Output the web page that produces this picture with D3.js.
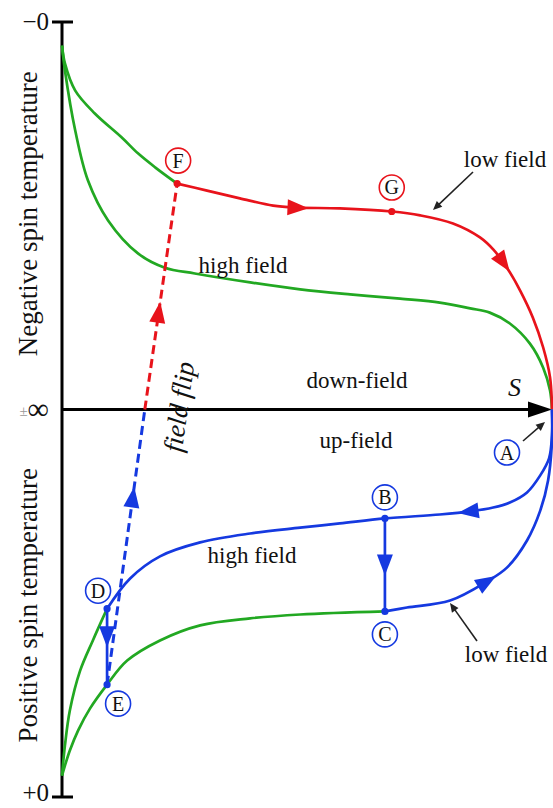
<!DOCTYPE html>
<html>
<head>
<meta charset="utf-8">
<script src="https://cdn.jsdelivr.net/npm/d3@7"></script>
<style>
  html, body { margin: 0; padding: 0; background: #fff; }
  svg { display: block; }
  text { font-family: "Liberation Serif", "DejaVu Serif", serif; fill: #111; }
</style>
</head>
<body>
<svg id="chart" width="553" height="808"></svg>
<script>
// Entropy S (normalised, 0..1) against inverse spin temperature
// (normalised: +1 = -0 K, 0 = ±∞, -1 = +0 K).

// Vertical axis tick values and their labels
const tickValues = [1, 0, -1];
const tickLabels = ["−0", "±∞", "+0"];

// Low-field curve, negative temperatures: green part (−0 → F) and red part (F → S max)
const lowFieldNegGreen = [[0, 0.939], [0.006, 0.893], [0.027, 0.823], [0.067, 0.764], [0.122, 0.702],
  [0.155, 0.661], [0.190, 0.625], [0.235, 0.583]];
const lowFieldNegRed = [[0.235, 0.583], [0.296, 0.565], [0.363, 0.545], [0.431, 0.526], [0.480, 0.521],
  [0.567, 0.519], [0.673, 0.511], [0.731, 0.501], [0.798, 0.480], [0.853, 0.444], [0.880, 0.413],
  [0.908, 0.366], [0.935, 0.307], [0.961, 0.237], [0.982, 0.160], [0.996, 0.083], [1, 0]];

// High-field curve, negative temperatures
const highFieldNeg = [[0, 0.939], [0.006, 0.875], [0.027, 0.720], [0.053, 0.591], [0.094, 0.488],
  [0.155, 0.403], [0.210, 0.366], [0.271, 0.351], [0.384, 0.328], [0.486, 0.310], [0.588, 0.297],
  [0.690, 0.286], [0.771, 0.276], [0.833, 0.261], [0.873, 0.250], [0.914, 0.222], [0.955, 0.170],
  [0.982, 0.108], [0.996, 0.049], [1, 0]];

// High-field curve, positive temperatures: blue part (A → B → D) and green part (D → +0)
const highFieldPosBlue = [[1, 0], [1, -0.067], [0.994, -0.126], [0.976, -0.170], [0.949, -0.214],
  [0.914, -0.240], [0.880, -0.253], [0.833, -0.263], [0.771, -0.271], [0.659, -0.281], [0.567, -0.294],
  [0.486, -0.305], [0.384, -0.320], [0.282, -0.343], [0.200, -0.379], [0.139, -0.436], [0.092, -0.514]];
const highFieldPosGreen = [[0.092, -0.514], [0.063, -0.596], [0.037, -0.674], [0.016, -0.777],
  [0.006, -0.867], [0, -0.945]];

// Low-field curve, positive temperatures: blue part (C → A) and green part (C → E → +0)
const lowFieldPosBlue = [[0.659, -0.521], [0.704, -0.511], [0.792, -0.493], [0.867, -0.444],
  [0.908, -0.408], [0.949, -0.338], [0.976, -0.261], [0.992, -0.183], [1, -0.080], [1, 0]];
const lowFieldPosGreen = [[0.659, -0.521], [0.486, -0.529], [0.384, -0.539], [0.282, -0.557],
  [0.200, -0.596], [0.133, -0.648], [0.092, -0.710], [0.057, -0.772], [0.033, -0.828],
  [0.016, -0.880], [0.006, -0.919], [0, -0.945]];

// Field flip E → F, crossing the ±∞ line
const flipBlue = [[0.092, -0.710], [0.169, 0]];
const flipRed = [[0.169, 0], [0.235, 0.583]];

// Isothermal steps B → C and D → E
const stepBC = [[0.659, -0.281], [0.659, -0.521]];
const stepDE = [[0.092, -0.514], [0.092, -0.710]];

// Labelled states
const stateNames = ["A", "B", "C", "D", "E", "F", "G"];
const stateS = [1, 0.659, 0.659, 0.092, 0.092, 0.235, 0.673];
const stateV = [0, -0.281, -0.521, -0.514, -0.710, 0.583, 0.511];

const svg = d3.select("#chart");
const x = d3.scaleLinear().domain([0, 1]).range([62, 552]);
const y = d3.scaleLinear().domain([-1, 1]).range([797, 22]);

const GREEN = "#22a822", RED = "#e8131b", BLUE = "#1539e0";

const line = d3.line().x(d => x(d[0])).y(d => y(d[1])).curve(d3.curveCatmullRom.alpha(0.5));

function curve(data, color, dashed) {
  return svg.append("path").datum(data).attr("d", line)
    .attr("fill", "none").attr("stroke", color)
    .attr("stroke-width", dashed ? 3 : 2.7)
    .attr("stroke-linecap", "butt")
    .attr("stroke-dasharray", dashed ? "9,5" : null);
}

// Filled arrowhead on a path, placed where the path reaches a given x or y value
function arrowOn(path, axis, value, color) {
  const node = path.node();
  const total = node.getTotalLength();
  const target = axis === "x" ? x(value) : y(value);
  let best = 0, bestD = Infinity;
  for (let i = 0; i <= 600; i++) {
    const l = total * i / 600;
    const p = node.getPointAtLength(l);
    const d = Math.abs((axis === "x" ? p.x : p.y) - target);
    if (d < bestD) { bestD = d; best = l; }
  }
  const p0 = node.getPointAtLength(Math.max(0, best - 2));
  const p1 = node.getPointAtLength(Math.min(total, best + 2));
  const c = node.getPointAtLength(best);
  const ang = Math.atan2(p1.y - p0.y, p1.x - p0.x) * 180 / Math.PI;
  svg.append("path")
    .attr("d", "M11,0 L-10,-8 L-10,8 Z")
    .attr("fill", color)
    .attr("transform", `translate(${c.x},${c.y}) rotate(${ang})`);
}

// Axes
svg.append("line").attr("x1", x(0)).attr("x2", x(0)).attr("y1", y(1)).attr("y2", y(-1))
  .attr("stroke", "#000").attr("stroke-width", 3);
[1, -1].forEach(v => {
  svg.append("line").attr("x1", x(0) - 10).attr("x2", x(0) + 11).attr("y1", y(v)).attr("y2", y(v))
    .attr("stroke", "#000").attr("stroke-width", 3);
});
svg.append("line").attr("x1", x(0)).attr("x2", x(1) - 20).attr("y1", y(0)).attr("y2", y(0))
  .attr("stroke", "#000").attr("stroke-width", 3);
svg.append("path").attr("d", `M${x(1)},${y(0)} L${x(1) - 24},${y(0) - 8} L${x(1) - 24},${y(0) + 8} Z`)
  .attr("fill", "#000");

tickValues.forEach((v, i) => {
  const t = svg.append("text").attr("x", x(0) - 13).attr("y", y(v) + (v < 0 ? 4 : 8))
    .attr("text-anchor", "end").style("font-size", "25px");
  if (tickLabels[i] === "±∞") {
    t.append("tspan").text("±").style("font-size", "15px").style("fill", "#999").attr("dy", -2);
    t.append("tspan").text("∞").style("font-size", "30px").attr("dy", 3);
  } else {
    t.text(tickLabels[i]);
  }
});

// Axis titles
svg.append("text").attr("transform", `translate(37,${y(0.505)}) rotate(-90)`)
  .attr("text-anchor", "middle").style("font-size", "27px").text("Negative spin temperature");
svg.append("text").attr("transform", `translate(37,${y(-0.505)}) rotate(-90)`)
  .attr("text-anchor", "middle").style("font-size", "27px").text("Positive spin temperature");
svg.append("text").attr("x", x(0.91)).attr("y", y(0.035))
  .style("font-size", "26px").style("font-style", "italic").text("S");

// Curves
curve(lowFieldNegGreen, GREEN);
curve(highFieldNeg, GREEN);
curve(highFieldPosGreen, GREEN);
curve(lowFieldPosGreen, GREEN);
const redLow = curve(lowFieldNegRed, RED);
const redFlip = curve(flipRed, RED, true);
const blueFlip = curve(flipBlue, BLUE, true);
const blueHigh = curve(highFieldPosBlue, BLUE);
const blueLow = curve(lowFieldPosBlue, BLUE);
const bc = curve(stepBC, BLUE);
const de = curve(stepDE, BLUE);

arrowOn(redLow, "x", 0.48, RED);
arrowOn(redLow, "y", 0.379, RED);
arrowOn(redFlip, "y", 0.25, RED);
arrowOn(blueFlip, "y", -0.227, BLUE);
arrowOn(blueHigh, "x", 0.829, BLUE);
arrowOn(blueLow, "x", 0.867, BLUE);
arrowOn(bc, "y", -0.40, BLUE);
arrowOn(de, "y", -0.585, BLUE);

// State dots and circled letters
const labelOffset = { A: [-45, 43], B: [0, -21], C: [0, 23], D: [-9, -18], E: [11, 19], F: [1, -23], G: [0, -24] };
stateNames.forEach((n, i) => {
  const cx = x(stateS[i]), cy = y(stateV[i]);
  const color = stateV[i] > 0 ? RED : BLUE;
  if (n !== "A") svg.append("circle").attr("cx", cx).attr("cy", cy).attr("r", 3.6).attr("fill", color);
  const [ox, oy] = labelOffset[n];
  svg.append("circle").attr("cx", cx + ox).attr("cy", cy + oy).attr("r", 12.5)
    .attr("fill", "#fff").attr("stroke", color).attr("stroke-width", 1.6);
  svg.append("text").attr("x", cx + ox).attr("y", cy + oy + 7).attr("text-anchor", "middle")
    .style("font-size", "20px").text(n);
});

// Pointer arrows
function pointer(x1, y1, x2, y2) {
  const ang = Math.atan2(y2 - y1, x2 - x1);
  svg.append("line").attr("x1", x1).attr("y1", y1)
    .attr("x2", x2 - 6 * Math.cos(ang)).attr("y2", y2 - 6 * Math.sin(ang))
    .attr("stroke", "#222").attr("stroke-width", 1.6);
  svg.append("path").attr("d", "M0,0 L-9,-4 L-9,4 Z").attr("fill", "#222")
    .attr("transform", `translate(${x2},${y2}) rotate(${ang * 180 / Math.PI})`);
}
pointer(523, 441, 545, 422);
pointer(473, 172, 433, 210);
pointer(477, 641, 450, 603);

// Text labels
const labels = [
  ["high field", 243, 273], ["down-field", 357, 388], ["up-field", 356, 448],
  ["high field", 252, 563], ["low field", 505, 167], ["low field", 506, 662]
];
labels.forEach(([t, lx, ly]) => {
  svg.append("text").attr("x", lx).attr("y", ly).attr("text-anchor", "middle")
    .style("font-size", "23px").text(t);
});
svg.append("text").attr("transform", "translate(188,408) rotate(-82)")
  .attr("text-anchor", "middle").style("font-size", "27px").style("font-style", "italic")
  .text("field flip");
</script>
</body>
</html>
